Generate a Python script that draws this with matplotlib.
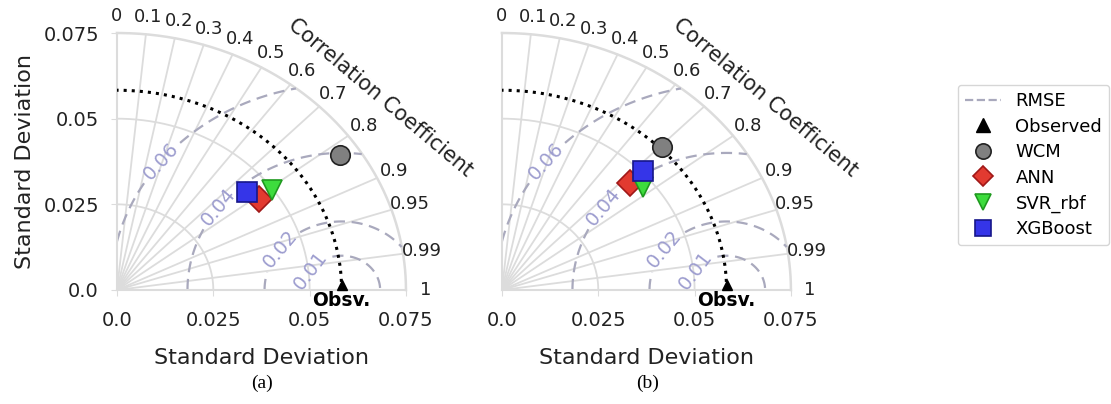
import numpy as np
import matplotlib
matplotlib.use("Agg")
import matplotlib.pyplot as plt
from matplotlib.lines import Line2D
from matplotlib import transforms

# reference (observed) standard deviation
REF_STD = 0.0583
STD_MAX = 0.075

MODELS = ["WCM", "ANN", "SVR_rbf", "XGBoost"]
# panel (a)
STD_A = [0.0700, 0.0455, 0.0497, 0.0442]
CORR_A = [0.827, 0.811, 0.809, 0.763]
# panel (b)
STD_B = [0.0589, 0.0455, 0.0475, 0.0504]
CORR_B = [0.704, 0.730, 0.773, 0.725]

CORR_TICKS = [0, 0.1, 0.2, 0.3, 0.4, 0.5, 0.6, 0.7, 0.8, 0.9, 0.95, 0.99, 1]
CORR_LABELS = ["0", "0.1", "0.2", "0.3", "0.4", "0.5", "0.6", "0.7", "0.8", "0.9", "0.95", "0.99", "1"]
STD_TICKS = [0, 0.025, 0.05, 0.075]
STD_LABELS = ["0.0", "0.025", "0.05", "0.075"]
RMSE_LEVELS = [0.01, 0.02, 0.04, 0.06]

STYLES = {
    "WCM": dict(marker="o", mfc="#808080", mec="#222222", ms=14),
    "ANN": dict(marker="D", mfc="#e23a30", mec="#a01818", ms=13),
    "SVR_rbf": dict(marker="v", mfc="#3ddc3d", mec="#1f9a1f", ms=14),
    "XGBoost": dict(marker="s", mfc="#3535e8", mec="#16168a", ms=14),
}

GRID_C = "#dcdcdc"
RMS_C = "#a9a9bd"
RMS_LABEL_C = "#9d9dcf"
TEXT_C = "#222222"


def draw_panel(ax, stds, corrs, show_ylabel):
    ax.set_xlim(0, STD_MAX)
    ax.set_ylim(0, STD_MAX)
    for s in ["top", "right"]:
        ax.spines[s].set_visible(False)
    for s in ["left", "bottom"]:
        ax.spines[s].set_color(GRID_C)
        ax.spines[s].set_linewidth(1.5)

    th = np.linspace(0, np.pi / 2, 300)
    # std arcs
    for r in [0.025, 0.05]:
        ax.plot(r * np.cos(th), r * np.sin(th), color=GRID_C, lw=1.3, zorder=1)
    ax.plot(STD_MAX * np.cos(th), STD_MAX * np.sin(th), color=GRID_C, lw=1.8,
            zorder=1, clip_on=False)

    # correlation rays and labels
    for c, lab in zip(CORR_TICKS, CORR_LABELS):
        a = np.arccos(c)
        if 0 < c < 1:
            ax.plot([0, STD_MAX * np.cos(a)], [0, STD_MAX * np.sin(a)],
                    color=GRID_C, lw=1.3, zorder=1)
        ax.text(0.08 * np.cos(a), 0.08 * np.sin(a), lab, ha="center",
                va="center", fontsize=13, color=TEXT_C, clip_on=False)
    ax.text(0.0685, 0.0563, "Correlation Coefficient", rotation=-40,
            ha="center", va="center", fontsize=15, color=TEXT_C)

    # RMSE contours
    xs = np.linspace(0, STD_MAX, 400)
    X, Y = np.meshgrid(xs, xs)
    R = np.sqrt((X - REF_STD) ** 2 + Y ** 2)
    R = np.ma.masked_where(np.sqrt(X ** 2 + Y ** 2) > STD_MAX, R)
    cs = ax.contour(X, Y, R, levels=RMSE_LEVELS, colors=RMS_C,
                    linestyles=[(0, (5, 3))], linewidths=1.6, zorder=2)
    ax.clabel(cs, inline=True, fmt="%.2f", fontsize=14, colors=RMS_LABEL_C,
              manual=[(0.008, 0.041), (0.0228, 0.0275), (0.039, 0.015), (0.0467, 0.0088)])

    # reference std arc
    ax.plot(REF_STD * np.cos(th), REF_STD * np.sin(th), color="black",
            ls=":", lw=2.2, zorder=3)
    tri = transforms.offset_copy(ax.transData, fig=ax.figure, y=3.5, units="points")
    ax.plot([REF_STD], [0], marker="^", color="black", ms=7, transform=tri,
            clip_on=False, zorder=5)
    ax.text(REF_STD, -0.0003, "Obsv.", ha="center", va="top", fontsize=13.5,
            fontweight="bold", color="black", zorder=5)

    for name, s, c in zip(MODELS, stds, corrs):
        a = np.arccos(c)
        ax.plot([s * np.cos(a)], [s * np.sin(a)], ls="none", mew=1.2,
                zorder=6, clip_on=False, **STYLES[name])

    ax.set_xticks(STD_TICKS)
    ax.set_xticklabels(STD_LABELS)
    ax.tick_params(axis="x", colors=GRID_C, labelcolor=TEXT_C, labelsize=14,
                   length=4, pad=11)
    ax.set_xlabel("Standard Deviation", fontsize=16, color=TEXT_C, labelpad=13)
    if show_ylabel:
        ax.set_yticks(STD_TICKS)
        ax.set_yticklabels(STD_LABELS)
        ax.tick_params(axis="y", colors=GRID_C, labelcolor=TEXT_C, labelsize=14,
                       length=4, pad=9)
        ax.set_ylabel("Standard Deviation", fontsize=16, color=TEXT_C, labelpad=6)
    else:
        ax.set_yticks([])


fig = plt.figure(figsize=(11.11, 4.04), dpi=100)
ax_a = fig.add_axes([0.1053, 0.2822, 0.2601, 0.6361])
ax_b = fig.add_axes([0.4518, 0.2822, 0.2601, 0.6361])
draw_panel(ax_a, STD_A, CORR_A, True)
draw_panel(ax_b, STD_B, CORR_B, False)

fig.text(262 / 1111, 1 - 383 / 404, "(a)", ha="center", va="center",
         fontsize=14, family="Liberation Serif")
fig.text(648 / 1111, 1 - 383 / 404, "(b)", ha="center", va="center",
         fontsize=14, family="Liberation Serif")

handles = [Line2D([0], [0], color=RMS_C, ls="--", lw=1.6, label="RMSE"),
           Line2D([0], [0], marker="^", color="black", ls="none", ms=10, label="Observed")]
for name in MODELS:
    st = dict(STYLES[name])
    st["ms"] = st["ms"] - 3
    handles.append(Line2D([0], [0], ls="none", mew=1.2, label=name, **st))
fig.legend(handles=handles, loc="upper left", bbox_to_anchor=(0.862, 0.790),
           borderaxespad=0, fontsize=13, frameon=True, edgecolor="#cccccc",
           labelspacing=0.42, handletextpad=0.8, borderpad=0.4)

fig.savefig("out.png", dpi=100)
